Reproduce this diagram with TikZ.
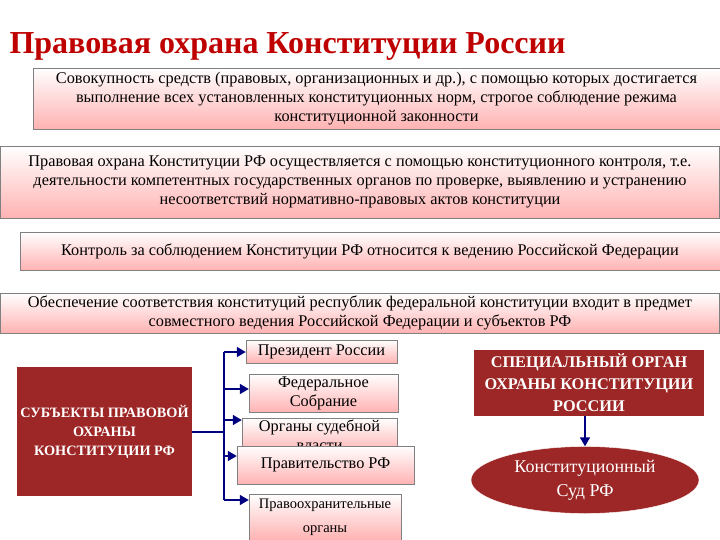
\documentclass[tikz,border=0pt]{standalone}
\usepackage{fontspec}
\setmainfont{Liberation Serif}
\usetikzlibrary{arrows.meta,shadows,shapes.geometric}
\begin{document}
\begin{tikzpicture}[x=1pt,y=-1pt,
 pink/.style={draw=black!50,top color=white,bottom color=red!30,drop shadow={opacity=0.25,shadow xshift=1pt,shadow yshift=-1pt},font=\fontsize{16.3}{19}\selectfont,align=center,inner sep=1pt},
 dark/.style={fill=red!55!black!85,text=white,font=\bfseries\fontsize{14.3}{19}\selectfont,align=center},
 arr/.style={draw=blue!50!black,line width=1.5pt,-{Triangle[length=9pt,width=10pt]}}]
\useasboundingbox (0,0) rectangle (720,540);
\node[anchor=base west,text=red!75!black,font=\bfseries\fontsize{32}{34}\selectfont] (t) at (6,54) {Правовая охрана Конституции России};
\node[pink,minimum width=687,minimum height=61] (b1) at (376.5,98.5) {Совокупность средств (правовых, организационных и др.), с помощью которых достигается\\выполнение всех установленных конституционных норм, строгое соблюдение режима\\конституционной законности};
\node[pink,minimum width=719,minimum height=72] (b2) at (360,182) {Правовая охрана Конституции РФ осуществляется с помощью конституционного контроля, т.е.\\деятельности компетентных государственных органов по проверке, выявлению и устранению\\несоответствий нормативно-правовых актов конституции};
\node[pink,minimum width=700,minimum height=38] (b3) at (370,251) {Контроль за соблюдением Конституции РФ относится к ведению Российской Федерации};
\node[pink,minimum width=719,minimum height=40] (b4) at (360,313) {Обеспечение соответствия конституций республик федеральной конституции входит в предмет\\совместного ведения Российской Федерации и субъектов РФ};
\node[pink,minimum width=151,minimum height=23] (p) at (321.5,351.5) {Президент России};
\node[pink,minimum width=149,minimum height=38] (f) at (323.5,393) {Федеральное\\Собрание};
\node[pink,minimum width=155,minimum height=35] (c) at (319.5,435.5) {Органы судебной\\власти};
\node[pink,minimum width=177,minimum height=38] (g) at (325.5,465) {Правительство РФ};
\node[pink,minimum width=152,minimum height=46,font=\fontsize{14.5}{24}\selectfont] (l) at (325,517) {Правоохранительные\\органы};
\node[dark,minimum width=167,minimum height=129] (s) at (104.5,431.5) {СУБЪЕКТЫ ПРАВОВОЙ\\ОХРАНЫ\\КОНСТИТУЦИИ РФ};
\node[dark,minimum width=230,minimum height=66,font=\bfseries\fontsize{16.3}{22}\selectfont] (sp) at (589,383) {СПЕЦИАЛЬНЫЙ ОРГАН\\ОХРАНЫ КОНСТИТУЦИИ\\РОССИИ};
\node[ellipse,fill=red!55!black!85,draw=white,text=white,minimum width=228,minimum height=67,inner sep=0,align=center,font=\fontsize{18}{24}\selectfont] (e) at (585,480) {Конституционный\\Суд РФ};
\coordinate (j) at (224,432);
\draw[draw=blue!50!black,line width=1.5pt] (s.east|-j) -- (j) (224,352) -- (224,500);
\draw[arr] (224,352) -- (p.west|-0,352);
\draw[arr] (224,389) -- (f.west|-0,389);
\draw[arr] (224,420) -- (c.west|-0,420);
\draw[arr] (224,456) -- (g.west|-0,456);
\draw[arr] (224,500) -- (l.west|-0,500);
\draw[arr] (sp.south-|e.north) -- (e.north);
\end{tikzpicture}
\end{document}
